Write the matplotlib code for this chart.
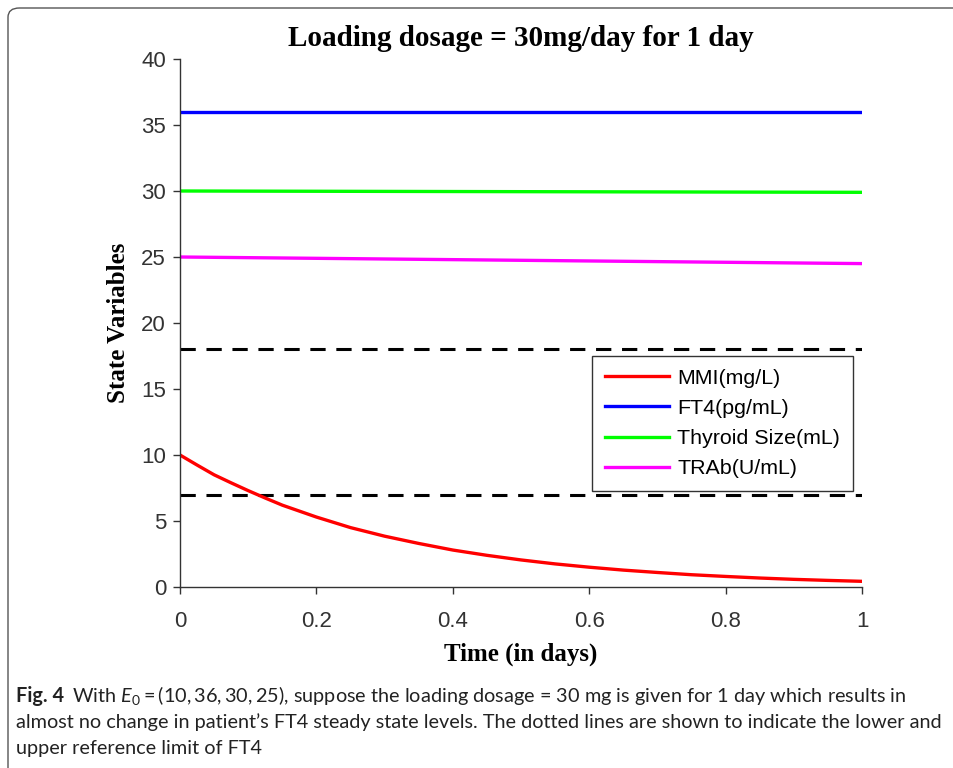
import matplotlib
matplotlib.use("Agg")
import matplotlib.pyplot as plt
from matplotlib.patches import FancyBboxPatch

# datos
t_days = [0.0, 0.025, 0.05, 0.075, 0.1, 0.125, 0.15, 0.2, 0.25, 0.3, 0.35,
          0.4, 0.45, 0.5, 0.55, 0.6, 0.65, 0.7, 0.75, 0.8, 0.85, 0.9, 0.95, 1.0]
mmi = [10.0, 9.24, 8.5, 7.89, 7.3, 6.74, 6.2, 5.3, 4.5, 3.85, 3.3,
       2.8, 2.4, 2.05, 1.75, 1.5, 1.28, 1.1, 0.93, 0.8, 0.68, 0.58, 0.5, 0.43]
t_flat = [0.0, 1.0]
ft4 = [36.0, 36.0]
thyroid = [30.0, 29.9]
trab = [25.0, 24.5]
ft4_lower = 7
ft4_upper = 18

titulo = "Loading dosage = 30mg/day for 1 day"

plt.rcParams["mathtext.fontset"] = "custom"
plt.rcParams["mathtext.rm"] = "Lato"
plt.rcParams["mathtext.it"] = "Lato:italic"

fig = plt.figure(figsize=(9.54, 7.68), dpi=100)
ax = fig.add_axes([180/954, 1 - 587/768, 682/954, 528/768])

ax.axhline(ft4_upper, color="black", lw=2.2, ls=(0, (5, 3.5)))
ax.axhline(ft4_lower, color="black", lw=2.2, ls=(0, (5, 3.5)))
ax.plot(t_days, mmi, color="#ff0000", lw=2.4, label="MMI(mg/L)")
ax.plot(t_flat, ft4, color="#0000ff", lw=2.4, label="FT4(pg/mL)")
ax.plot(t_flat, thyroid, color="#00ff00", lw=2.4, label="Thyroid Size(mL)")
ax.plot(t_flat, trab, color="#ff00ff", lw=2.4, label="TRAb(U/mL)")

ax.set_xlim(0, 1)
ax.set_ylim(0, 40)
ax.set_xticks([0, 0.2, 0.4, 0.6, 0.8, 1])
ax.set_xticklabels(["0", "0.2", "0.4", "0.6", "0.8", "1"])
ax.set_yticks(range(0, 41, 5))
ax.spines["top"].set_visible(False)
ax.spines["right"].set_visible(False)
for s in ["left", "bottom"]:
    ax.spines[s].set_color("#333333")
    ax.spines[s].set_linewidth(1.0)
ax.tick_params(direction="out", length=5, width=1, color="#333333",
               labelcolor="#333333", labelsize=16)
ax.tick_params(axis="x", pad=12)
ax.tick_params(axis="y", pad=5)
for lab in ax.get_xticklabels() + ax.get_yticklabels():
    lab.set_family("Liberation Sans")

ax.set_title(titulo, family="Liberation Serif", weight="bold", fontsize=21, pad=9)
ax.set_xlabel("Time (in days)", family="Liberation Serif", weight="bold", fontsize=18, labelpad=8)
ax.set_ylabel("State Variables", family="Liberation Serif", weight="bold", fontsize=18, labelpad=8)

leg = ax.legend(loc="upper right", bbox_to_anchor=(0.987, 0.4375), borderaxespad=0,
                fancybox=False, framealpha=1, edgecolor="#333333", handlelength=3.0,
                handletextpad=0.4, borderpad=0.6, labelspacing=0.52,
                prop={"family": "Liberation Sans", "size": 15.4})
leg.get_frame().set_linewidth(1.0)

# marco exterior
marco = FancyBboxPatch((8/954, -0.05), 1.05, 1 - 8/768 + 0.05, transform=fig.transFigure,
                       boxstyle="round,pad=0,rounding_size=0.012", fill=False,
                       edgecolor="#555555", lw=1.0, clip_on=False)
fig.patches.append(marco)

# pie de figura
cap_font = {"family": "Lato", "size": 14.3, "color": "#222222"}
x0 = 16/954
fig_lbl = fig.text(x0, 1 - 702/768, "Fig. 4", va="baseline", fontweight="bold", **cap_font)
fig.canvas.draw()
bb = fig_lbl.get_window_extent()
fig.text((bb.x1 + 8)/954, 1 - 702/768,
         r"With $E_0 = (10, 36, 30, 25)$, suppose the loading dosage = 30 mg is given for 1 day which results in",
         va="baseline", **cap_font)
fig.text(x0, 1 - 728/768,
         "almost no change in patient\u2019s FT4 steady state levels. The dotted lines are shown to indicate the lower and",
         va="baseline", **cap_font)
fig.text(x0, 1 - 754/768, "upper reference limit of FT4", va="baseline", **cap_font)

fig.savefig("out.png", dpi=100)
